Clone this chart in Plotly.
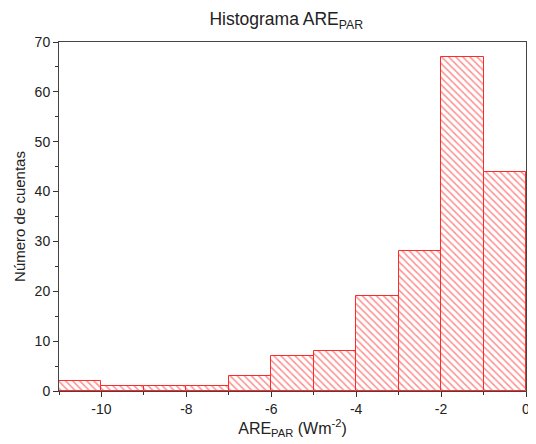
import plotly.graph_objects as go

bin_left = [-11, -10, -9, -8, -7, -6, -5, -4, -3, -2, -1]
counts = [2, 1, 1, 1, 3, 7, 8, 19, 28, 67, 44]
x_ticks = [-10, -8, -6, -4, -2, 0]
x_labels = ["-10", "-8", "-6", "-4", "-2", "0"]
y_ticks = [0, 10, 20, 30, 40, 50, 60, 70]

centers = [b + 0.5 for b in bin_left]

fig = go.Figure(go.Bar(
    x=centers, y=counts, width=1,
    marker=dict(color="white",
                line=dict(color="#ff2a2a", width=1),
                pattern=dict(shape="\\", fgcolor="#ff2020", bgcolor="white",
                             size=5, solidity=0.3)),
))

font = "Liberation Sans, Arial, sans-serif"
# page body adds an 8px offset; the figure is sized to fit the remaining window
fig.update_layout(
    width=528, height=436,
    margin=dict(l=51, r=6, t=34, b=53),
    paper_bgcolor="white", plot_bgcolor="white",
    showlegend=False,
    font=dict(family=font, color="#222", size=14),
    title=dict(text="Histograma ARE<sub>PAR</sub>", x=0.527, xanchor="center",
               y=0.988, yanchor="top", font=dict(size=17.5, color="#222")),
    bargap=0,
)
fig.update_xaxes(range=[-11, 0], tickvals=x_ticks, ticktext=x_labels, ticks="outside", ticklen=5,
                 tickcolor="#333", showline=True, linecolor="#444", linewidth=1,
                 mirror=True, showgrid=False, zeroline=False,
                 minor=dict(dtick=1, tick0=-11, ticks="outside", ticklen=3, tickcolor="#333"),
                 title=dict(text="ARE<sub>PAR</sub> (Wm<sup>-2</sup>)", font=dict(size=16), standoff=3))
fig.update_yaxes(range=[0, 70], tickvals=y_ticks, ticks="outside", ticklen=5,
                 tickcolor="#333", showline=True, linecolor="#444", linewidth=1,
                 mirror=True, showgrid=False, zeroline=False,
                 minor=dict(dtick=5, tick0=0, ticks="outside", ticklen=3, tickcolor="#333"),
                 title=dict(text="Número de cuentas", font=dict(size=15), standoff=5))

fig.write_html("out.html")
